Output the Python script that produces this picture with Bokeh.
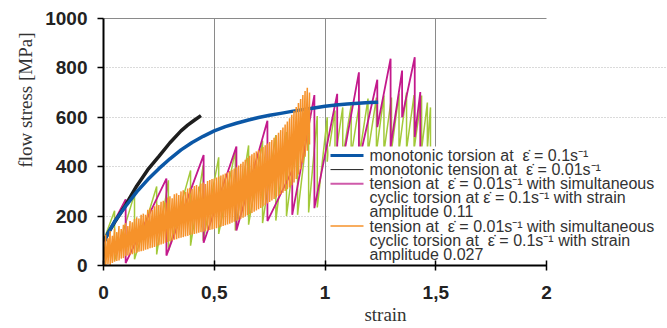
from bokeh.plotting import figure
from bokeh.models import Range1d, FixedTicker, LinearAxis, Grid, Title, ColumnDataSource
from bokeh.core.properties import value
from bokeh.embed import file_html
from bokeh.resources import INLINE

# ---------------- data ----------------
torsion_strain = [0.005, 0.02, 0.05, 0.10, 0.15, 0.20, 0.25, 0.30, 0.35, 0.40, 0.45, 0.50, 0.55,
                  0.60, 0.65, 0.70, 0.75, 0.80, 0.85, 0.90, 0.95, 1.00, 1.05, 1.10, 1.15, 1.20, 1.24]
torsion_stress = [100, 130, 178, 240, 298, 348, 392, 432, 468, 498, 523, 545, 562,
                  576, 588, 599, 608, 616, 624, 631, 638, 645, 650, 654, 657, 660, 661]

tension_strain = [0.005, 0.02, 0.05, 0.10, 0.15, 0.20, 0.25, 0.30, 0.35, 0.38, 0.41, 0.44]
tension_stress = [100, 130, 175, 245, 322, 388, 442, 497, 545, 568, 588, 607]

# sawtooth: strain of each stress drop, stress before the drop, stress after the drop
amp011_start = [0.0, 95]
amp011_strain = [0.100, 0.284, 0.452, 0.600, 0.740, 0.852, 0.952, 1.055, 1.153, 1.236, 1.296, 1.348, 1.405, 1.430]
amp011_peak = [268, 352, 447, 482, 586, 385, 690, 695, 782, 752, 837, 789, 843, 702]
amp011_trough = [10, 40, 92, 142, 180, 205, 232, 300, 420, 560, 480, 600, 520, 470]

green_start = [0.0, 100]
green_strain = [0.050, 0.140, 0.240, 0.293, 0.393, 0.450, 0.520, 0.595, 0.655, 0.718, 0.778, 0.826,
                0.876, 0.926, 0.965, 1.010, 1.045, 1.080, 1.118, 1.156, 1.194, 1.232, 1.266, 1.300,
                1.334, 1.368, 1.402, 1.436, 1.462, 1.476]
green_peak = [222, 290, 320, 345, 385, 405, 438, 465, 486, 505, 528, 540,
              550, 590, 605, 600, 628, 640, 648, 660, 676, 680, 688, 680,
              696, 700, 690, 688, 660, 640]
green_trough = [20, 25, 45, 60, 80, 100, 128, 142, 165, 172, 182, 200,
                205, 215, 235, 420, 430, 440, 445, 450, 455, 460, 460, 465,
                465, 470, 470, 470, 470, 470]

amp0027_start = [0.0, 0]
amp0027_strain = [0.01, 0.02, 0.03, 0.04, 0.05, 0.06, 0.07, 0.08, 0.09, 0.10,
                  0.11, 0.12, 0.13, 0.14, 0.15, 0.16, 0.17, 0.18, 0.19, 0.20,
                  0.21, 0.22, 0.23, 0.24, 0.25, 0.26, 0.27, 0.28, 0.29, 0.30,
                  0.31, 0.32, 0.33, 0.34, 0.35, 0.36, 0.37, 0.38, 0.39, 0.40,
                  0.41, 0.42, 0.43, 0.44, 0.45, 0.46, 0.47, 0.48, 0.49, 0.50,
                  0.51, 0.52, 0.53, 0.54, 0.55, 0.56, 0.57, 0.58, 0.59, 0.60,
                  0.61, 0.62, 0.63, 0.64, 0.65, 0.66, 0.67, 0.68, 0.69, 0.70,
                  0.71, 0.72, 0.73, 0.74, 0.75, 0.76, 0.77, 0.78, 0.79, 0.80,
                  0.81, 0.82, 0.83, 0.84, 0.85, 0.86, 0.87, 0.88, 0.89, 0.90,
                  0.91, 0.92, 0.93]
amp0027_peak = [125, 110, 140, 120, 150, 135, 160, 148, 165, 172,
                160, 180, 175, 188, 195, 190, 205, 210, 205, 226,
                232, 225, 240, 248, 245, 258, 262, 255, 275, 280,
                272, 288, 292, 285, 300, 305, 298, 312, 315, 310,
                322, 326, 320, 332, 336, 330, 342, 346, 350, 352,
                356, 360, 364, 368, 372, 377, 382, 388, 393, 398,
                405, 412, 420, 428, 436, 444, 450, 456, 462, 468,
                474, 480, 487, 494, 500, 508, 517, 527, 537, 548,
                559, 571, 583, 596, 610, 626, 642, 658, 674, 690,
                706, 720, 700]
amp0027_valley = [0, 5, 2, 10, 15, 18, 20, 28, 30, 38,
                  40, 44, 46, 50, 52, 56, 58, 60, 64, 66,
                  70, 72, 75, 78, 82, 85, 88, 92, 95, 98,
                  100, 104, 106, 110, 112, 115, 118, 120, 123, 126,
                  128, 130, 133, 135, 137, 140, 142, 144, 146, 148,
                  151, 154, 157, 160, 163, 166, 169, 173, 177, 181,
                  185, 189, 193, 198, 203, 208, 213, 218, 223, 228,
                  233, 239, 245, 251, 257, 263, 269, 275, 281, 288,
                  295, 302, 309, 316, 325, 336, 350, 368, 390, 415,
                  440, 465, 490]

x_ticks = [0, 0.5, 1, 1.5, 2]
x_tick_labels = ["0", "0,5", "1", "1,5", "2"]
y_ticks = [0, 200, 400, 600, 800, 1000]

EPS = "\u03b5\u0307"
INV = "s\u207b\u00b9"
SP = "\u00a0 "
legend_lines = [
    f"monotonic torsion at{SP}{EPS} = 0.1{INV}",
    f"monotonic tension at{SP}{EPS} = 0.01{INV}",
    f"tension at{SP}{EPS} = 0.01{INV} with simultaneous",
    f"cyclic torsion at {EPS} = 0.1{INV} with strain",
    "amplitude 0.11",
    f"tension at{SP}{EPS} = 0.01{INV} with simultaneous",
    f"cyclic torsion at{SP}{EPS} = 0.1{INV} with strain",
    "amplitude 0.027",
]
legend_swatch_line = [0, 1, 2, 5]   # which text line carries a swatch

# ---------------- styles / layout ----------------
BLUE = "#0b57a6"
BLACK = "#1e1e1e"
MAGENTA = "#c3198c"
GREEN = "#a3c93a"
ORANGE = "#f6922a"
FRAME_GREY = "#8a8a8a"
swatch_colors = [BLUE, BLACK, "#cf5aaa", ORANGE]
swatch_widths = [3, 1, 2, 1.5]

FRAME_W, FRAME_H = 564, 247          # plot frame in pixels
LEG_BOX = (225, 564, 0, 119)         # legend box: left, right, bottom, top (px in frame)
LEG_SW_X = (227, 260)                # swatch start / end (px)
LEG_TEXT_X = 266
LEG_FIRST_LINE = 110
LEG_PITCH = 14.1


def sawtooth(start, strains, peaks, troughs):
    xs, ys = [start[0]], [start[1]]
    for x, a, b in zip(strains, peaks, troughs):
        xs += [x, x]
        ys += [a, b]
    return xs, ys


# frame runs to the right edge of the page so the legend can overhang the axes box
p = figure(width=667, height=328, x_range=Range1d(0, 2.546), y_range=Range1d(0, 1000),
           output_backend="svg", toolbar_location=None,
           min_border_left=103, min_border_right=0, min_border_top=18, min_border_bottom=63)
p.extra_x_ranges = {"px": Range1d(0, FRAME_W)}
p.extra_y_ranges = {"px": Range1d(0, FRAME_H)}
p.background_fill_color = "white"
p.border_fill_color = "white"
p.outline_line_color = None

xa = p.xaxis[0]
ya = p.yaxis[0]
for ax in (xa, ya):
    ax.axis_line_color = "black"
    ax.axis_line_width = 2
    ax.major_tick_line_color = "black"
    ax.major_tick_line_width = 1.5
    ax.minor_tick_line_color = None
    ax.major_label_text_font = "Liberation Sans"
    ax.major_label_text_font_style = "bold"
    ax.major_label_text_font_size = "19px"
    ax.major_label_text_color = "#222222"

xa.bounds = (0, 2)
xa.ticker = FixedTicker(ticks=x_ticks)
xa.major_label_overrides = {float(t): l for t, l in zip(x_ticks, x_tick_labels)}
xa.major_tick_in = 5
xa.major_tick_out = 5
xa.major_label_standoff = 15
xa.axis_label = "strain"
xa.axis_label_text_font = "Liberation Serif"
xa.axis_label_text_font_style = "normal"
xa.axis_label_text_font_size = "19px"
xa.axis_label_text_color = "#333333"
xa.axis_label_standoff = 2

ya.ticker = FixedTicker(ticks=y_ticks)
ya.major_tick_in = 0
ya.major_tick_out = 6
ya.major_label_standoff = 10

# grey box edges: top edge as an unlabeled axis, right edge as a single grid line
top_edge = LinearAxis(bounds=(0, 2), ticker=FixedTicker(ticks=[]), axis_line_color=FRAME_GREY,
                      axis_line_width=1, major_tick_line_color=None, minor_tick_line_color=None)
p.add_layout(top_edge, "above")
p.add_layout(Grid(dimension=0, ticker=FixedTicker(ticks=[2]), bounds=(0, 1000),
                  grid_line_color=FRAME_GREY, grid_line_width=1))

p.xgrid.ticker = FixedTicker(ticks=[0.5, 1, 1.5])
p.ygrid.ticker = FixedTicker(ticks=[200, 400, 600, 800])
p.ygrid.bounds = (0, 2)
for g in (p.xgrid[0], p.ygrid[0]):
    g.grid_line_color = "#b4b4b4"
    g.grid_line_dash = "1 2"
    g.grid_line_width = 1

# data lines
gx, gy = sawtooth(green_start, green_strain, green_peak, green_trough)
p.line(gx, gy, line_color=GREEN, line_width=1.5)
mx, my = sawtooth(amp011_start, amp011_strain, amp011_peak, amp011_trough)
p.line(mx, my, line_color=MAGENTA, line_width=1.8)
p.line(tension_strain, tension_stress, line_color=BLACK, line_width=3.5)
p.line(torsion_strain, torsion_stress, line_color=BLUE, line_width=3.5)
ox, oy = sawtooth(amp0027_start, amp0027_strain, amp0027_peak, amp0027_valley)
p.line(ox, oy, line_color=ORANGE, line_width=1.5)

# legend drawn in frame pixels (it overhangs the axes box like the original)
line_y = [LEG_FIRST_LINE - i * LEG_PITCH for i in range(len(legend_lines))]
p.quad(left=[LEG_BOX[0]], right=[LEG_BOX[1]], bottom=[LEG_BOX[2]], top=[LEG_BOX[3]],
       fill_color="white", line_color=None, x_range_name="px", y_range_name="px")
sw_src = ColumnDataSource(dict(
    x0=[LEG_SW_X[0]] * len(legend_swatch_line), x1=[LEG_SW_X[1]] * len(legend_swatch_line),
    y=[line_y[i] for i in legend_swatch_line], color=swatch_colors, width=swatch_widths))
p.segment(x0="x0", y0="y", x1="x1", y1="y", line_color="color", line_width="width",
          source=sw_src, x_range_name="px", y_range_name="px")
p.text(x=[LEG_TEXT_X] * len(legend_lines), y=line_y, text=legend_lines,
       text_font=value("Liberation Sans"), text_font_size="16px", text_color="#333333",
       text_baseline="middle", text_align="left", x_range_name="px", y_range_name="px")

p.add_layout(Title(text="flow stress [MPa]", align="right", offset=14, vertical_align="top",
                   standoff=10, text_font="Liberation Serif", text_font_size="19px",
                   text_font_style="normal", text_color="#333333"), "left")

open("out.html", "w").write(file_html(p, INLINE))
